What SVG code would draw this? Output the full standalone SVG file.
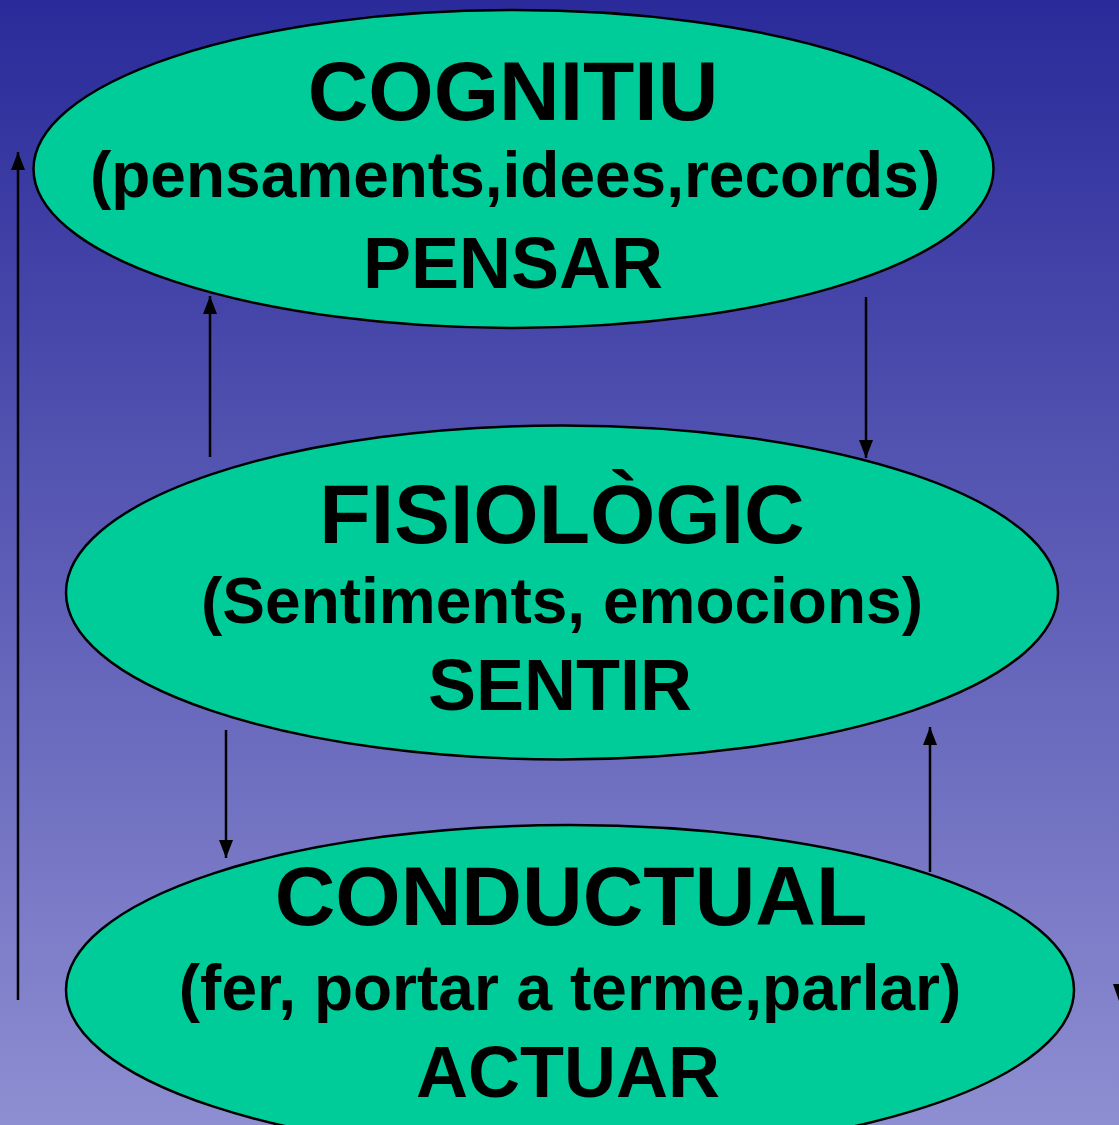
<svg xmlns="http://www.w3.org/2000/svg" width="1119" height="1125" viewBox="0 0 1119 1125">
<defs>
<linearGradient id="bg" x1="0" y1="0" x2="0" y2="1">
<stop offset="0" stop-color="#2a2a9a"/>
<stop offset="1" stop-color="#8e8ed2"/>
</linearGradient>
<marker id="ah" viewBox="0 0 18 14" refX="18" refY="7" markerWidth="18" markerHeight="14" markerUnits="userSpaceOnUse" orient="auto">
<path d="M0,0 L18,7 L0,14 Z" fill="#000"/>
</marker>
<style>
.node ellipse{fill:#00cc99;stroke:#000;stroke-width:2.5}
.t{font-family:"Liberation Sans",Arial,sans-serif;font-weight:bold;fill:#000;text-anchor:middle}
.big{font-size:84px}
.mid{font-size:64px}
.lab{font-size:72px}
.conn line{stroke:#000;stroke-width:2.5;marker-end:url(#ah)}
</style>
</defs>
<rect width="1119" height="1125" fill="url(#bg)"/>
<g id="cognitiu" class="node">
<ellipse cx="513.5" cy="169" rx="480" ry="159"/>
<text class="t big" x="513" y="120">COGNITIU</text>
<text class="t mid" x="515" y="197">(pensaments,idees,records)</text>
<text class="t lab" x="513" y="288">PENSAR</text>
</g>
<g id="fisiologic" class="node">
<ellipse cx="562" cy="592.5" rx="496" ry="167"/>
<text class="t big" x="562" y="543">FISIOLÒGIC</text>
<text class="t mid" x="562" y="623">(Sentiments, emocions)</text>
<text class="t lab" x="560" y="710">SENTIR</text>
</g>
<g id="conductual" class="node">
<ellipse cx="570" cy="990" rx="504" ry="165"/>
<text class="t big" x="571" y="925">CONDUCTUAL</text>
<text class="t mid" x="570" y="1010">(fer, portar a terme,parlar)</text>
<text class="t lab" x="568" y="1097">ACTUAR</text>
</g>
<g id="connectors" class="conn">
<line x1="18" y1="1000" x2="18" y2="152"/>
<line x1="210" y1="457" x2="210" y2="296"/>
<line x1="866" y1="297" x2="866" y2="458"/>
<line x1="226" y1="730" x2="226" y2="858"/>
<line x1="930" y1="872" x2="930" y2="727"/>
<path d="M1113,984 L1125,984 L1119,1001 Z" fill="#000"/>
</g>
</svg>
